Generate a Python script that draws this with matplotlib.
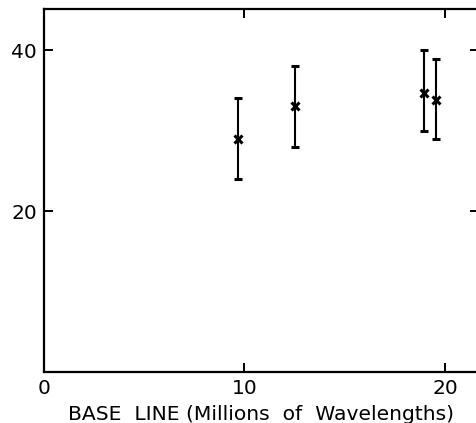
import matplotlib
matplotlib.use("Agg")
import matplotlib.pyplot as plt

baseline = [9.67, 12.53, 18.95, 19.53]
values = [28.9, 33.0, 34.7, 33.8]
err_low = [4.9, 5.0, 4.7, 4.9]
err_high = [5.1, 5.0, 5.3, 5.1]

x_ticks = [0, 10, 20]
y_ticks = [20, 40]
x_label = "BASE  LINE (Millions  of  Wavelengths)"

fig = plt.figure(figsize=(4.77, 4.23), dpi=100)
ax = fig.add_axes([44/477, 51/423, 435/477, 363/423])

ax.errorbar(baseline, values, yerr=[err_low, err_high], fmt='x', color='black',
            ecolor='black', elinewidth=1.5, capsize=3, capthick=1.5,
            markersize=6, markeredgewidth=2.2)

ax.set_xlim(0, 21.7)
ax.set_ylim(0, 45.1)
ax.set_xticks(x_ticks)
ax.set_yticks(y_ticks)
ax.tick_params(direction='in', length=6.5, width=1.4, labelsize=14.5, pad=5,
               top=True, right=True)
for s in ax.spines.values():
    s.set_linewidth(1.6)
ax.set_xlabel(x_label, fontsize=14.6, labelpad=5)

fig.savefig("out.png", dpi=100)
